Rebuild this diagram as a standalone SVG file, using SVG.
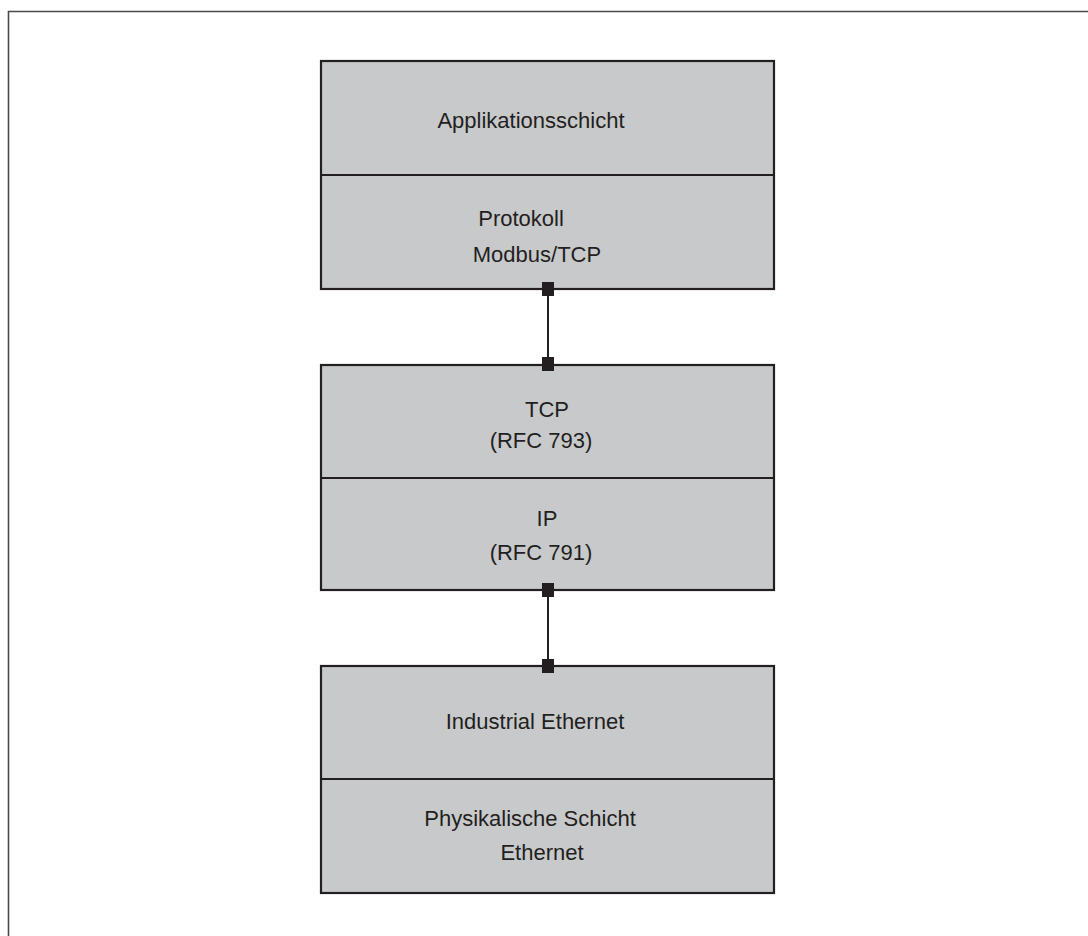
<svg xmlns="http://www.w3.org/2000/svg" width="1088" height="936" viewBox="0 0 1088 936">
  <style>
    .frame { fill: none; stroke: #4a4a4a; stroke-width: 1.6; }
    .layer { fill: #c8c9cb; stroke: #231f20; stroke-width: 2.2; }
    .div { stroke: #231f20; stroke-width: 2.2; }
    .lbl { font-family: "Liberation Sans", Arial, sans-serif; font-size: 22px; fill: #231f20; text-anchor: middle; }
    .wire { stroke: #231f20; stroke-width: 2; fill: none; }
    .pin { fill: #231f20; }
  </style>
  <rect width="1088" height="936" fill="#ffffff"/>
  <!-- outer frame (top and left edges visible) -->
  <path class="frame" d="M8.5,940 V11.5 H1090"/>

  <g id="application">
    <rect class="layer" x="321" y="61" width="453" height="228"/>
    <line class="div" x1="321" y1="175" x2="774" y2="175"/>
    <text class="lbl" x="531" y="128">Applikationsschicht</text>
    <text class="lbl" x="521" y="226">Protokoll</text>
    <text class="lbl" x="537" y="262">Modbus/TCP</text>
  </g>

  <g id="tcpip">
    <rect class="layer" x="321" y="365" width="453" height="225"/>
    <line class="div" x1="321" y1="478" x2="774" y2="478"/>
    <text class="lbl" x="547" y="417">TCP</text>
    <text class="lbl" x="541" y="448">(RFC 793)</text>
    <text class="lbl" x="547" y="526">IP</text>
    <text class="lbl" x="541" y="560">(RFC 791)</text>
  </g>

  <g id="ethernet">
    <rect class="layer" x="321" y="666" width="453" height="227"/>
    <line class="div" x1="321" y1="779" x2="774" y2="779"/>
    <text class="lbl" x="535" y="729">Industrial Ethernet</text>
    <text class="lbl" x="530" y="826">Physikalische Schicht</text>
    <text class="lbl" x="542" y="860">Ethernet</text>
  </g>

  <!-- connectors between the stack blocks, drawn on top so the pins overlap the edges -->
  <g id="connectors">
    <line class="wire" x1="548" y1="289" x2="548" y2="365"/>
    <rect class="pin" x="542" y="282" width="12" height="14"/>
    <rect class="pin" x="542" y="357" width="12" height="14"/>
    <line class="wire" x1="548" y1="590" x2="548" y2="666"/>
    <rect class="pin" x="542" y="583" width="12" height="14"/>
    <rect class="pin" x="542" y="659" width="12" height="14"/>
  </g>
</svg>
